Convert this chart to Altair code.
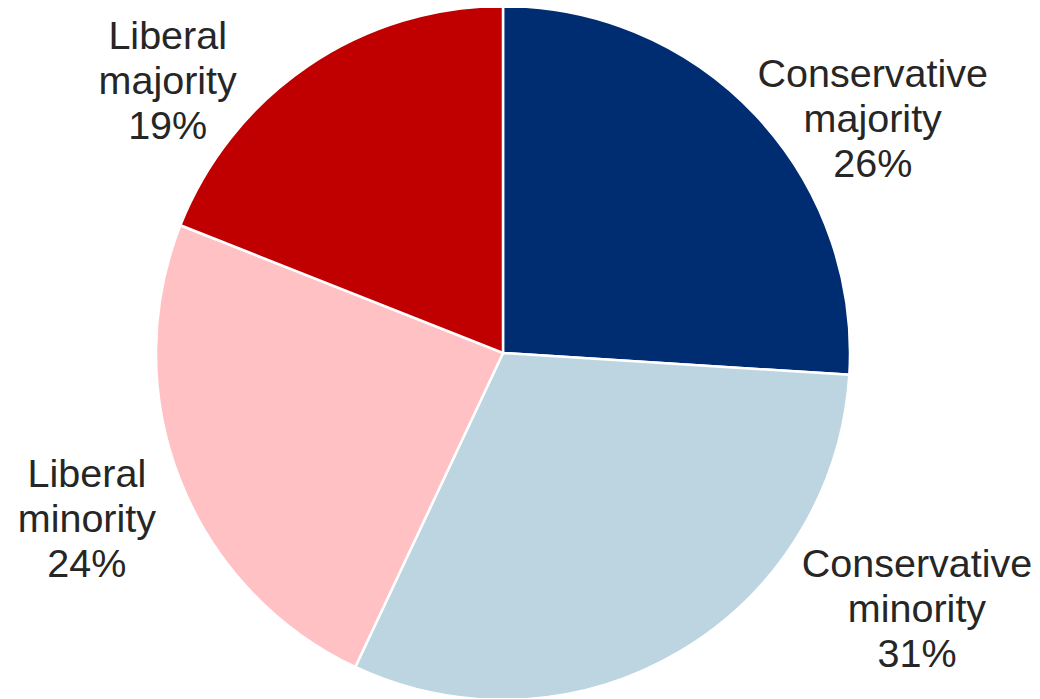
import altair as alt
import pandas as pd

# ---- data ----
categories = ["Conservative majority", "Conservative minority", "Liberal minority", "Liberal majority"]
shares = [26, 31, 24, 19]
label_lines = [["Conservative", "majority"], ["Conservative", "minority"], ["Liberal", "minority"], ["Liberal", "majority"]]

# ---- style ----
colors = ["#002D72", "#BDD5E1", "#FFC1C3", "#C00000"]
label_nudges = [(49, 23), (190, -167), (-7, -40), (-88, 48)]  # dx, dy per label
TEXT_COLOR = "#262626"
FONT = "Liberation Sans"
CX, CY = 495, 345

df = pd.DataFrame({
    "category": categories,
    "share": shares,
    "idx": list(range(len(categories))),
    "label": ["\n".join(lines + [f"{v}%"]) for lines, v in zip(label_lines, shares)],
})

theta_scale = alt.Scale(domain=[0, 100])
base = alt.Chart(df)

pie = base.mark_arc(outerRadius=347, stroke="white", strokeWidth=2.5).encode(
    theta=alt.Theta("share:Q", stack=True, scale=theta_scale),
    color=alt.Color("category:N", scale=alt.Scale(domain=categories, range=colors), legend=None),
    order=alt.Order("idx:Q"),
    x=alt.value(CX),
    y=alt.value(CY),
)

label_base = base.transform_window(
    cum="sum(share)", sort=[alt.SortField("idx")], frame=[None, 0]
).transform_calculate(mid="datum.cum - datum.share / 2")

layers = [pie]
for i, (ndx, ndy) in enumerate(label_nudges):
    layers.append(
        label_base.transform_filter(f"datum.idx == {i}").mark_text(
            radius=440, dx=ndx, dy=ndy, fontSize=39.5, font=FONT, color=TEXT_COLOR,
            align="center", baseline="middle", lineBreak="\n", lineHeight=45,
        ).encode(
            theta=alt.Theta("mid:Q", stack=None, scale=theta_scale),
            text="label:N",
            x=alt.value(CX),
            y=alt.value(CY),
        )
    )

chart = alt.layer(*layers).properties(
    width=1024, height=690, autosize=alt.AutoSizeParams(type="none"), padding=0,
).configure_view(stroke=None)

chart.save("out.html", embed_options={"renderer": "svg", "actions": False})
